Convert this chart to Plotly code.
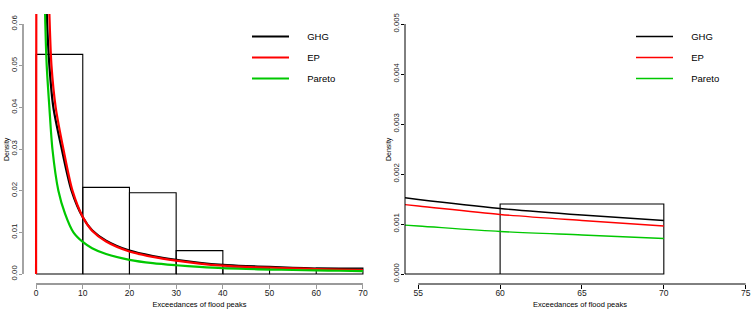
import plotly.graph_objects as go

# ---------------- data ----------------
bin_edges = [0, 10, 20, 30, 40, 50, 60, 70]
bin_density = [0.0527, 0.0208, 0.0195, 0.0056, 0.0014, 0.0, 0.0014]

ghg_x = [1.5, 2.3, 2.85, 3.7, 5.5, 7.6, 10, 12, 15, 20, 25, 30, 35, 40, 45, 50, 55, 60, 65, 70]
ghg_y = [0.11, 0.0624, 0.05, 0.04, 0.03, 0.02, 0.0136, 0.0105, 0.008, 0.0056, 0.0043, 0.0034,
         0.0027, 0.0022, 0.0019, 0.0017, 0.00149, 0.00131, 0.00118, 0.00107]

ep_x = [0, 0.7, 1.5, 2.2, 2.85, 3.3, 4.2, 5.85, 7.8, 10, 12, 15, 20, 25, 30, 35, 40, 45, 50, 55, 60, 65, 70]
ep_y = [0.0, 0.6, 0.15, 0.09, 0.0624, 0.05, 0.04, 0.03, 0.02, 0.0137, 0.0104, 0.0078, 0.0054,
        0.0041, 0.0032, 0.0025, 0.0020, 0.0017, 0.00153, 0.00136, 0.00119, 0.00107, 0.00096]

par_x = [1.4, 1.93, 2.28, 2.85, 3.5, 4.78, 6.2, 8.0, 10, 12, 15, 20, 25, 30, 35, 40, 45, 50, 55, 60, 65, 70]
par_y = [0.1, 0.0624, 0.05, 0.04, 0.03, 0.02, 0.0145, 0.01, 0.0077, 0.0062, 0.0048, 0.0034,
         0.0026, 0.0021, 0.0017, 0.00138, 0.0012, 0.00107, 0.00096, 0.00085, 0.00078, 0.00071]

series_names = ["GHG", "EP", "Pareto"]
series_colors = ["#000000", "#ff0000", "#00c800"]

left_xticks = [0, 10, 20, 30, 40, 50, 60, 70]
left_yticks = [0.00, 0.01, 0.02, 0.03, 0.04, 0.05, 0.06]
left_ylabels = ["0.00", "0.01", "0.02", "0.03", "0.04", "0.05", "0.06"]
right_xticks = [55, 60, 65, 70, 75]
right_yticks = [0.000, 0.001, 0.002, 0.003, 0.004, 0.005]
right_ylabels = ["0.000", "0.001", "0.002", "0.003", "0.004", "0.005"]

x_title = "Exceedances of flood peaks"
y_title = "Density"

# ---------------- figure ----------------
H_FONT = "Liberation Sans Narrow, Arial Narrow, Liberation Sans, Arial, sans-serif"
V_FONT = "Liberation Sans, Arial, sans-serif"
GAP = "\u00a0" * 5  # extra space between legend line sample and its label (R legend style)

# histogram outline path (like R rect for each bin)
hx, hy = [], []
for i, h in enumerate(bin_density):
    l, r = bin_edges[i], bin_edges[i + 1]
    hx += [l, l, r, r, l, None]
    hy += [0, h, h, 0, 0, None]

fig = go.Figure()
curves = [(ghg_x, ghg_y), (ep_x, ep_y), (par_x, par_y)]
for panel, (xa, ya, leg, lw) in enumerate([("x", "y", "legend", 2.2), ("x2", "y2", "legend2", 1.4)]):
    fig.add_trace(go.Scatter(x=hx, y=hy, mode="lines", xaxis=xa, yaxis=ya,
                             line=dict(color="#000000", width=1.1), showlegend=False,
                             hoverinfo="skip"))
    for (cx, cy), nm, col in zip(curves, series_names, series_colors):
        fig.add_trace(go.Scatter(x=cx, y=cy, mode="lines", name=GAP + nm, xaxis=xa, yaxis=ya,
                                 legend=leg, legendgroup=nm + str(panel),
                                 line=dict(color=col, width=lw, shape="spline", smoothing=0.8)))

W, Hh = 755, 315
ml, mr, mt, mb = 23, 0, 14, 31
pw = W - ml - mr
ph = Hh - mt - mb
left_dom = [0, (376 - ml) / pw]
right_dom = [(405 - ml) / pw, 1.0]

def xaxis_cfg(dom, rng, ticks, col, anchor):
    return dict(domain=dom, range=rng, tickmode="array", tickvals=ticks, automargin=False,
                ticktext=[str(t) for t in ticks], ticks="outside", ticklen=4,
                tickcolor=col, tickwidth=1, showline=False, showgrid=False, zeroline=False,
                anchor=anchor, tickfont=dict(family=H_FONT, size=8.5, color="#1a1a1a"),
                ticklabelstandoff=-3,
                title=dict(text=x_title, font=dict(family=H_FONT, size=7.5, color="#000"), standoff=4))

def yaxis_cfg(rng, ticks, labels, col, anchor):
    return dict(domain=[0, 1], range=rng, tickmode="array", tickvals=ticks, ticktext=labels,
                automargin=False,
                tickangle=-90, ticks="outside", ticklen=3, tickcolor=col, tickwidth=1,
                showline=False, showgrid=False, zeroline=False, anchor=anchor,
                ticklabelstandoff=-1,
                tickfont=dict(family=V_FONT, size=7.8, color="#1a1a1a"))

grey = "#9a9a9a"
leg_common = dict(xanchor="left", yanchor="top", bgcolor="rgba(0,0,0,0)",
                  font=dict(family=H_FONT, size=9.5, color="#000"), tracegroupgap=2, itemwidth=37)
fig.update_layout(
    width=W, height=Hh, margin=dict(l=ml, r=mr, t=mt, b=mb, autoexpand=False),
    paper_bgcolor="white", plot_bgcolor="white",
    xaxis=xaxis_cfg(left_dom, [-2.8, 72.8], left_xticks, grey, "y"),
    yaxis=yaxis_cfg([-0.0024, 0.0624], left_yticks, left_ylabels, grey, "x"),
    xaxis2=xaxis_cfg(right_dom, [54.19, 75.57], right_xticks, "#000", "y2"),
    yaxis2=yaxis_cfg([-0.0002, 0.0052], right_yticks, right_ylabels, "#000", "x2"),
    legend=dict(x=(247 - ml) / pw, y=1 - (35 - mt - 13) / ph, **leg_common),
    legend2=dict(x=(631 - ml) / pw, y=1 - (35 - mt - 13) / ph, **leg_common),
    showlegend=True,
)

# y-axis titles (R places "Density" left of the rotated tick labels)
for xr, yr in [("x", "y"), ("x2", "y2")]:
    fig.add_annotation(text=y_title, textangle=-90, xref=xr + " domain", yref=yr + " domain",
                       x=0, y=0.5, xanchor="center", yanchor="middle", xshift=-16, showarrow=False,
                       font=dict(family=V_FONT, size=7, color="#000"))

# R-style axis lines spanning only from the first to the last tick
shapes = []
for xr, yr, xt, yt, col, w in [("x", "y", left_xticks, left_yticks, grey, 1.8),
                                ("x2", "y2", right_xticks, right_yticks, "#000", 1)]:
    shapes.append(dict(type="line", xref=xr, yref=yr + " domain", x0=min(xt), x1=max(xt), y0=0, y1=0,
                       line=dict(color=col, width=w)))
    shapes.append(dict(type="line", xref=xr + " domain", yref=yr, x0=0, x1=0, y0=min(yt), y1=max(yt),
                       line=dict(color=col, width=w)))
fig.update_layout(shapes=shapes)

fig.write_html("out.html", config={"displayModeBar": False},
               post_script="document.body.style.margin='0px';document.body.style.overflow='hidden';")
